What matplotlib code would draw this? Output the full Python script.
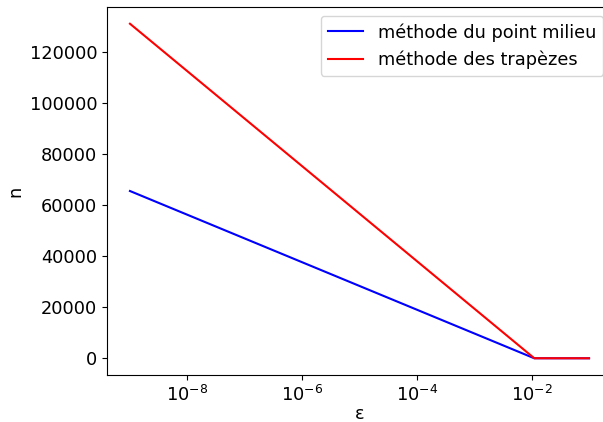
import numpy as np
import matplotlib
matplotlib.use("Agg")
import matplotlib.pyplot as plt

plt.rcParams['font.size'] = 12.8

# tolerances: linspace(1e-9, 0.1, 10)
eps = [1e-9, 0.0111, 0.0222, 0.0333, 0.0444, 0.0556, 0.0667, 0.0778, 0.0889, 0.1]
n_milieu = [65536, 8, 4, 4, 4, 4, 4, 2, 2, 2]
n_trapezes = [131072, 16, 8, 8, 8, 8, 4, 4, 4, 4]
xticks = [1e-8, 1e-6, 1e-4, 1e-2]

fig = plt.figure(figsize=(6.03, 4.22), dpi=100)
# the reference is cropped on the right, the axes run a bit past the edge
ax = fig.add_axes([107 / 603, 47 / 422, 505 / 603, 368 / 422])

ax.plot(eps, n_milieu, color='blue', label='méthode du point milieu')
ax.plot(eps, n_trapezes, color='red', label='méthode des trapèzes')
ax.set_xscale('log')
ax.set_xticks(xticks)
ax.minorticks_off()
ax.set_xlabel('ε', labelpad=0)
ax.set_ylabel('n')
ax.legend(loc='upper right')

fig.savefig('out.png', dpi=100)
